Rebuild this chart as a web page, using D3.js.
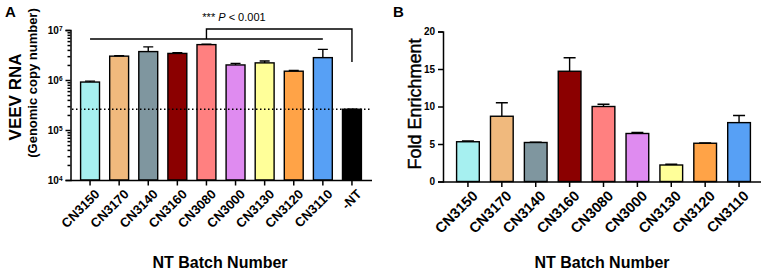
<!DOCTYPE html>
<html>
<head>
<meta charset="utf-8">
<style>
  body { margin: 0; background: #fff; }
  svg { font-family: "Liberation Sans", Arial, sans-serif; }
  .axis path, .axis line { stroke: #000; stroke-width: 1.5px; }
  .axis text { font-weight: bold; fill: #000; }
  .bar { stroke: #000; stroke-width: 1.4px; }
  .err { stroke: #000; stroke-width: 1.4px; fill: none; }
</style>
</head>
<body>
<div id="chart"></div>
<script src="https://d3js.org/d3.v7.min.js"></script>
<script>
// panel A: VEEV RNA (genomic copies), log scale
const batchesA = ["CN3150","CN3170","CN3140","CN3160","CN3080","CN3000","CN3130","CN3120","CN3110","-NT"];
const rnaMean  = [9.1e5, 3.0e6, 3.7e6, 3.4e6, 5.1e6, 2.0e6, 2.2e6, 1.5e6, 2.8e6, 2.6e5];
const rnaUpper = [9.5e5, 3.05e6, 4.6e6, 3.5e6, 5.2e6, 2.15e6, 2.4e6, 1.55e6, 4.1e6, 2.6e5];
const rnaCutoff = 2.6e5;

// panel B: fold enrichment
const batchesB = ["CN3150","CN3170","CN3140","CN3160","CN3080","CN3000","CN3130","CN3120","CN3110"];
const foldMean  = [5.3, 8.7, 5.2, 14.7, 10.0, 6.4, 2.2, 5.1, 7.85];
const foldUpper = [5.4, 10.5, 5.25, 16.5, 10.3, 6.55, 2.3, 5.15, 8.8];
const foldTicks = [0, 5, 10, 15, 20];

const batchColor = {
  "CN3150": "#a6f0f0", "CN3170": "#f0b97d", "CN3140": "#7f969f",
  "CN3160": "#8b0000", "CN3080": "#ff8080", "CN3000": "#df8bf0",
  "CN3130": "#ffff99", "CN3120": "#ffa347", "CN3110": "#57a0f5", "-NT": "#000000"
};

const svg = d3.select("#chart").append("svg")
  .attr("width", 765).attr("height", 273);

// ---------- A ----------
const gA = svg.append("g");
const xA = d3.scaleBand().domain(batchesA).range([75.5, 366.5]).paddingInner(0.35).paddingOuter(0.175);
const yA = d3.scaleLog().domain([1e4, 1e7]).range([180, 30]);

// minor ticks
const minor = [];
for (let e = 4; e < 7; e++) for (let m = 2; m <= 9; m++) minor.push(m * Math.pow(10, e));
gA.append("g").attr("class", "axis").attr("transform", "translate(70.5,0)")
  .call(d3.axisLeft(yA).tickValues(minor).tickSize(3).tickFormat(""))
  .call(g => g.select(".domain").remove());

const axA = gA.append("g").attr("class", "axis").attr("transform", "translate(70.5,0)")
  .call(d3.axisLeft(yA).tickValues([1e4, 1e5, 1e6, 1e7]).tickSizeOuter(0).tickSize(5).tickFormat(""));
axA.selectAll(".tick").append("text")
  .attr("x", -8).attr("dy", "0.32em").attr("text-anchor", "end")
  .style("font-size", "10px")
  .each(function(d) {
    const t = d3.select(this);
    t.append("tspan").text("10");
    t.append("tspan").attr("dy", "-0.45em").style("font-size", "6.5px").text(Math.round(Math.log10(d)));
  });

gA.selectAll("rect.bar").data(batchesA).join("rect")
  .attr("class", "bar")
  .attr("x", d => xA(d)).attr("width", xA.bandwidth())
  .attr("y", (d, i) => yA(rnaMean[i]))
  .attr("height", (d, i) => yA(1e4) - yA(rnaMean[i]))
  .attr("fill", d => batchColor[d]);

gA.selectAll("path.err").data(batchesA).join("path")
  .attr("class", "err")
  .attr("d", (d, i) => {
    const cx = xA(d) + xA.bandwidth() / 2, y0 = yA(rnaMean[i]), y1 = yA(rnaUpper[i]);
    return `M${cx},${y0}V${y1}M${cx - 5},${y1}H${cx + 5}`;
  });

const xAxA = gA.append("g").attr("class", "axis").attr("transform", "translate(0,180.5)")
  .call(d3.axisBottom(xA).tickSizeOuter(0).tickSize(5));
xAxA.select(".domain").attr("d", "M70.5,0H372");
xAxA.selectAll("text")
  .style("font-size", "13px").attr("text-anchor", "end")
  .attr("dy", "0.3em")
  .attr("transform", "translate(2,6) rotate(-45)");

gA.append("line")
  .attr("x1", 72).attr("x2", 372)
  .attr("y1", yA(rnaCutoff)).attr("y2", yA(rnaCutoff))
  .attr("stroke", "#000").attr("stroke-width", 1.3).attr("stroke-dasharray", "1.5,2.5");

// significance bracket
const cA = d => xA(d) + xA.bandwidth() / 2;
const yLow = yA(Math.pow(10, 6.82)), yHigh = yA(Math.pow(10, 7.02));
gA.append("path").attr("class", "err").attr("stroke-width", 1)
  .attr("d", `M${cA("CN3150")},${yLow}H${cA("CN3110")}M${cA("CN3080")},${yLow}V${yHigh}H${cA("-NT")}V${yA(Math.pow(10, 6.36))}`);
const pt = gA.append("text").attr("x", 234).attr("y", 21).attr("text-anchor", "middle")
  .style("font-size", "11px");
pt.append("tspan").text("*** ");
pt.append("tspan").style("font-style", "italic").text("P");
pt.append("tspan").text(" < 0.001");

gA.append("text").attr("x", 5).attr("y", 17).text("A")
  .style("font-weight", "bold").style("font-size", "15px");
gA.append("text").attr("transform", "translate(21,97) rotate(-90)").attr("text-anchor", "middle")
  .style("font-weight", "bold").style("font-size", "17px").text("VEEV RNA");
gA.append("text").attr("transform", "translate(37,83) rotate(-90)").attr("text-anchor", "middle")
  .style("font-weight", "bold").style("font-size", "13px").text("(Genomic copy number)");
gA.append("text").attr("x", 220).attr("y", 268).attr("text-anchor", "middle")
  .style("font-weight", "bold").style("font-size", "16px").text("NT Batch Number");

// ---------- B ----------
const gB = svg.append("g");
const xB = d3.scaleBand().domain(batchesB).range([451, 756]).paddingInner(0.33).paddingOuter(0.165);
const yB = d3.scaleLinear().domain([0, 20]).range([181.5, 31.5]);

gB.append("g").attr("class", "axis").attr("transform", "translate(443,0)")
  .call(d3.axisLeft(yB).tickValues(foldTicks).tickSizeOuter(0).tickSize(5))
  .selectAll("text").style("font-size", "10px");

gB.selectAll("rect.bar").data(batchesB).join("rect")
  .attr("class", "bar")
  .attr("x", d => xB(d)).attr("width", xB.bandwidth())
  .attr("y", (d, i) => yB(foldMean[i]))
  .attr("height", (d, i) => yB(0) - yB(foldMean[i]))
  .attr("fill", d => batchColor[d]);

gB.selectAll("path.err").data(batchesB).join("path")
  .attr("class", "err")
  .attr("d", (d, i) => {
    const cx = xB(d) + xB.bandwidth() / 2, y0 = yB(foldMean[i]), y1 = yB(foldUpper[i]);
    return `M${cx},${y0}V${y1}M${cx - 6},${y1}H${cx + 6}`;
  });

const xAxB = gB.append("g").attr("class", "axis").attr("transform", "translate(0,182)")
  .call(d3.axisBottom(xB).tickSizeOuter(0).tickSize(5));
xAxB.select(".domain").attr("d", "M443,0H761");
xAxB.selectAll("text")
  .style("font-size", "14.5px").attr("text-anchor", "end")
  .attr("dy", "0.3em")
  .attr("transform", "translate(2,6) rotate(-45)");

gB.append("text").attr("x", 393).attr("y", 17).text("B")
  .style("font-weight", "bold").style("font-size", "15px");
gB.append("text").attr("transform", "translate(421,104) rotate(-90)").attr("text-anchor", "middle")
  .style("font-size", "18px").attr("stroke", "#000").attr("stroke-width", 0.4)
  .text("Fold Enrichment");
gB.append("text").attr("x", 602).attr("y", 268).attr("text-anchor", "middle")
  .style("font-weight", "bold").style("font-size", "16px").text("NT Batch Number");
</script>
</body>
</html>
